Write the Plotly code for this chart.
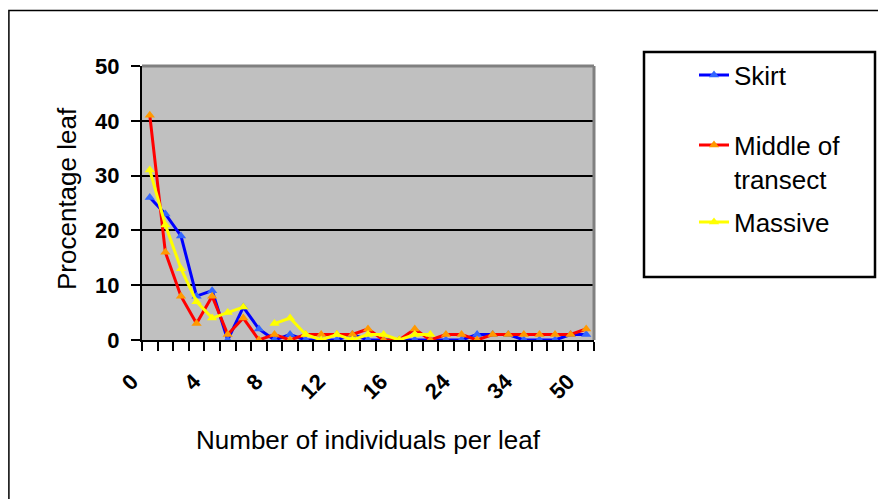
import plotly.graph_objects as go

categories = ["0", "1", "2", "3", "4", "5", "6", "7", "8", "9", "10", "11", "12", "13",
              "14", "15", "16", "18", "20", "22", "24", "26", "28", "30", "34", "38",
              "42", "46", "50"]
shown_labels = ["0", "4", "8", "12", "16", "24", "34", "50"]

skirt = [26, 23, 19, 8, 9, 0, 6, 2, 0, 1, 0, 0, 0, 1, 0, 0, 0, 0, 0, 0, 0, 1, 1, 1,
         0, 0, 0, 1, 1]
middle = [41, 16, 8, 3, 8, 1, 4, 0, 1, 0, 1, 1, 1, 1, 2, 0, 0, 2, 0, 1, 1, 0, 1, 1,
          1, 1, 1, 1, 2]
massive = [31, 21, 13, 7, 4, 5, 6, None, 3, 4, 1, 0, 1, 0, 1, 1, 0, 1, 1, None, None,
           None, None, None, None, None, None, None, None]

FONT = "Liberation Sans, Arial, sans-serif"

# page body has an 8px margin; screen coords of plot area: x 142-594, y 66-340
OFF = 8
W, H = 886 - OFF, 499 - OFF
PL, PR, PT, PB = 142, 594, 66, 340
PW, PH = PR - PL, PB - PT
L, T = PL - OFF, PT - OFF
R, B = W - L - PW, H - T - PH


def px(x):
    return (x - PL) / PW


def py(y):
    return (PB - y) / PH


fig = go.Figure()
fig.add_trace(go.Scatter(
    x=categories, y=skirt, name="Skirt", mode="lines+markers",
    line=dict(color="#0000FF", width=3),
    marker=dict(symbol="triangle-up", size=9, color="#3366FF"),
    legend="legend"))
fig.add_trace(go.Scatter(
    x=categories, y=middle, name="Middle of<br>transect", mode="lines+markers",
    line=dict(color="#FF0000", width=3),
    marker=dict(symbol="triangle-up", size=9, color="#FF9900"),
    legend="legend2"))
fig.add_trace(go.Scatter(
    x=categories, y=massive, name="Massive", mode="lines+markers",
    line=dict(color="#FFFF00", width=3),
    marker=dict(symbol="triangle-up", size=9, color="#FFFF00"),
    connectgaps=False, legend="legend3"))

ticktext = [c if c in shown_labels and i % 4 == 0 else "" for i, c in enumerate(categories)]

fig.update_layout(
    width=W, height=H,
    margin=dict(l=L, r=R, t=T, b=B),
    paper_bgcolor="white", plot_bgcolor="#C0C0C0",
    font=dict(family=FONT, color="black"),
    xaxis=dict(type="category", categoryorder="array", categoryarray=categories,
               range=[-0.5, len(categories) - 0.5],
               tickmode="array", tickvals=categories, ticktext=ticktext,
               tickson="boundaries", ticks="outside", ticklen=9, tickwidth=2,
               tickcolor="black", showline=True, linecolor="black", linewidth=2,
               showgrid=False, tickangle=-45,
               ticklabelstandoff=18, ticklabelshift=-18,
               tickfont=dict(family=FONT, size=22, color="black", weight="bold")),
    yaxis=dict(range=[0, 50], dtick=10, tick0=0, showgrid=True, gridcolor="black",
               gridwidth=2, zeroline=False, ticks="outside", ticklen=9, tickwidth=2,
               tickcolor="black", showline=True, linecolor="black", linewidth=2,
               ticklabelstandoff=7,
               tickfont=dict(family=FONT, size=22, color="black", weight="bold")),
    showlegend=True,
    legend=dict(x=px(694), y=py(75), xanchor="left", yanchor="middle",
                bgcolor="rgba(0,0,0,0)", font=dict(family=FONT, size=26)),
    legend2=dict(x=px(694), y=py(162), xanchor="left", yanchor="middle", valign="top",
                 bgcolor="rgba(0,0,0,0)", font=dict(family=FONT, size=26)),
    legend3=dict(x=px(694), y=py(222), xanchor="left", yanchor="middle",
                 bgcolor="rgba(0,0,0,0)", font=dict(family=FONT, size=26)),
    annotations=[
        dict(text="Procentage leaf", x=px(67), y=py(199), xref="paper", yref="paper",
             textangle=-90, showarrow=False, font=dict(family=FONT, size=26),
             xanchor="center", yanchor="middle"),
        dict(text="Number of individuals per leaf", x=px(368), y=py(440),
             xref="paper", yref="paper", showarrow=False,
             font=dict(family=FONT, size=26), xanchor="center", yanchor="middle"),
    ],
    shapes=[
        dict(type="rect", xref="paper", yref="paper", x0=px(8.9), x1=px(900),
             y0=py(530), y1=py(10.5), line=dict(color="black", width=1.5), layer="below"),
        dict(type="rect", xref="paper", yref="paper", x0=px(644), x1=px(875),
             y0=py(277), y1=py(52), line=dict(color="black", width=2.5)),
        dict(type="line", xref="paper", yref="paper", x0=0, x1=1, y0=1, y1=1,
             line=dict(color="#808080", width=3)),
        dict(type="line", xref="paper", yref="paper", x0=1, x1=1, y0=0, y1=1,
             line=dict(color="#808080", width=3)),
    ],
)

fig.write_html("out.html")
